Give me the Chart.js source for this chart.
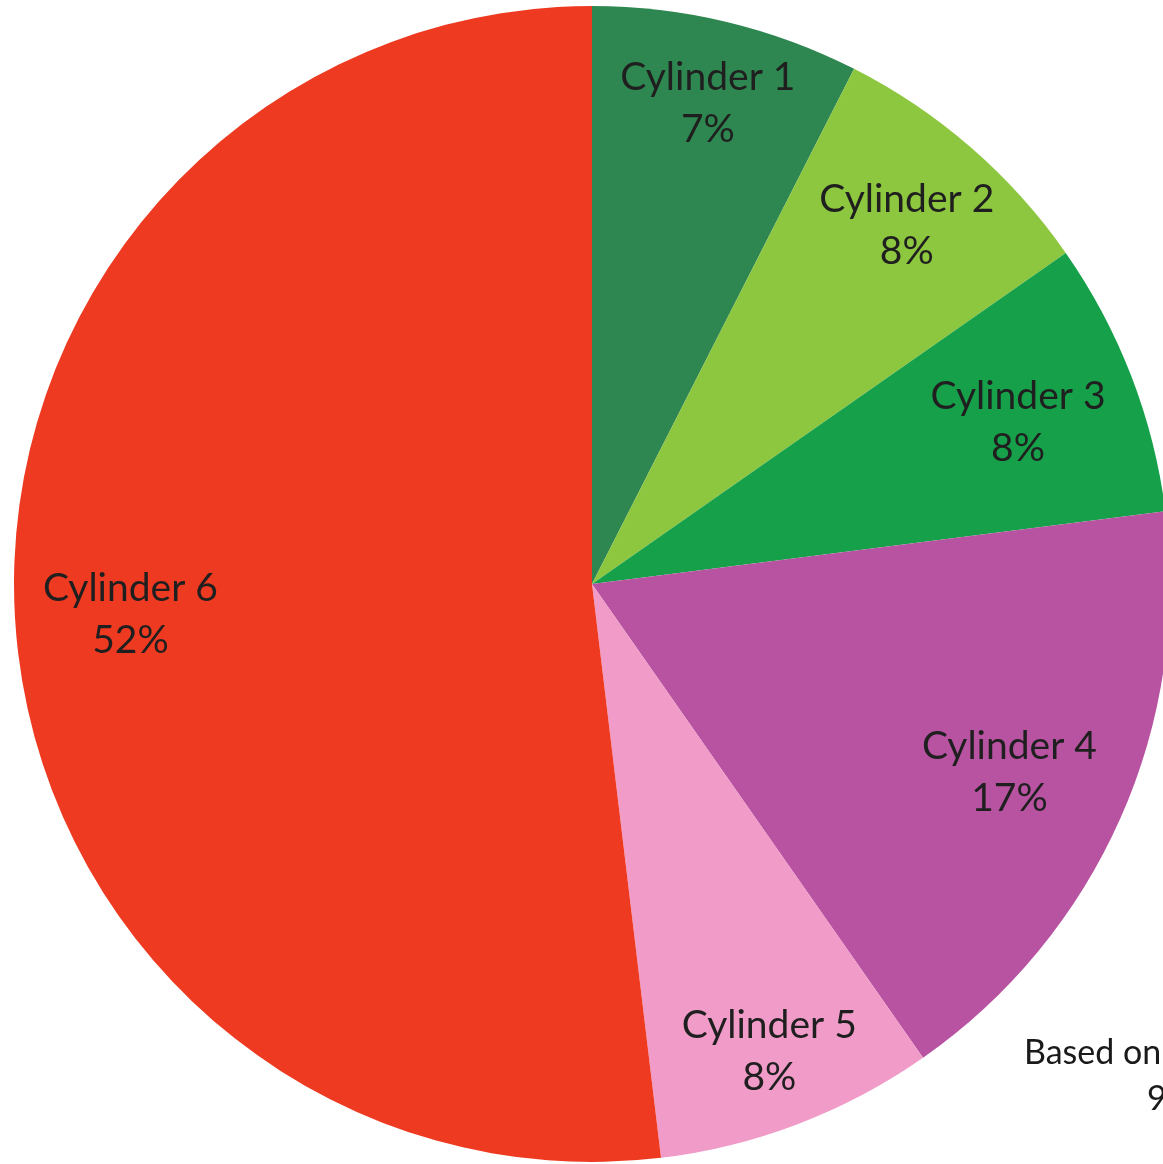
<!DOCTYPE html>
<html>
<head>
<meta charset="utf-8">
<script src="https://cdn.jsdelivr.net/npm/chart.js@4/dist/chart.umd.min.js"></script>
<style>
  html, body { margin: 0; padding: 0; background: #fff; overflow: hidden; width: 1163px; height: 1164px; }
  #wrap { position: absolute; left: 0; top: 0; width: 1184px; height: 1168px; }
  #note { position: absolute; left: 1024px; top: 1028px; font-family: Lato, sans-serif; font-size: 34px; color: #1a1a1a; line-height: 46px; white-space: nowrap; }
</style>
</head>
<body>
<div id="wrap"><canvas id="pie"></canvas></div>
<div id="note">Based on<br><span style="padding-left:123px">9</span></div>
<script>
// slice data (percent of total)
const labels = ['Cylinder 1', 'Cylinder 2', 'Cylinder 3', 'Cylinder 4', 'Cylinder 5', 'Cylinder 6'];
const shares = [7.49, 7.8, 7.7, 17.3, 7.8, 51.9];
const colors = ['#2e8750', '#8dc63f', '#17a04a', '#b853a2', '#f09bc8', '#ef3a22'];

// how far out each label sits (fraction of radius)
const labelPos = [0.86, 0.83, 0.79, 0.79, 0.86, 0.80];

// draw "Cylinder N" + "x%" inside each slice
const sliceLabels = {
    id: 'sliceLabels',
    afterDatasetsDraw(chart) {
        const ctx = chart.ctx;
        const meta = chart.getDatasetMeta(0);
        const total = shares.reduce((a, b) => a + b, 0);
        ctx.save();
        ctx.fillStyle = '#1f1f1f';
        ctx.textAlign = 'center';
        ctx.textBaseline = 'middle';
        ctx.font = '39px Lato, sans-serif';
        meta.data.forEach(function (arc, i) {
            const mid = (arc.startAngle + arc.endAngle) / 2;
            const r = arc.outerRadius * labelPos[i];
            const x = arc.x + Math.cos(mid) * r;
            const y = arc.y + Math.sin(mid) * r;
            ctx.fillText(labels[i], x, y - 23);
            ctx.fillText(Math.round(shares[i] / total * 100) + '%', x, y + 29);
        });
        ctx.restore();
    }
};

new Chart(document.getElementById('pie'), {
    type: 'pie',
    data: {
        labels: labels,
        datasets: [{
            data: shares,
            backgroundColor: colors,
            borderWidth: 0
        }]
    },
    options: {
        responsive: true,
        maintainAspectRatio: false,
        animation: false,
        layout: { padding: { top: 6, bottom: 6, left: 14, right: 14 } },
        plugins: {
            legend: { display: false },
            tooltip: { enabled: false }
        }
    },
    plugins: [sliceLabels]
});
</script>
</body>
</html>
